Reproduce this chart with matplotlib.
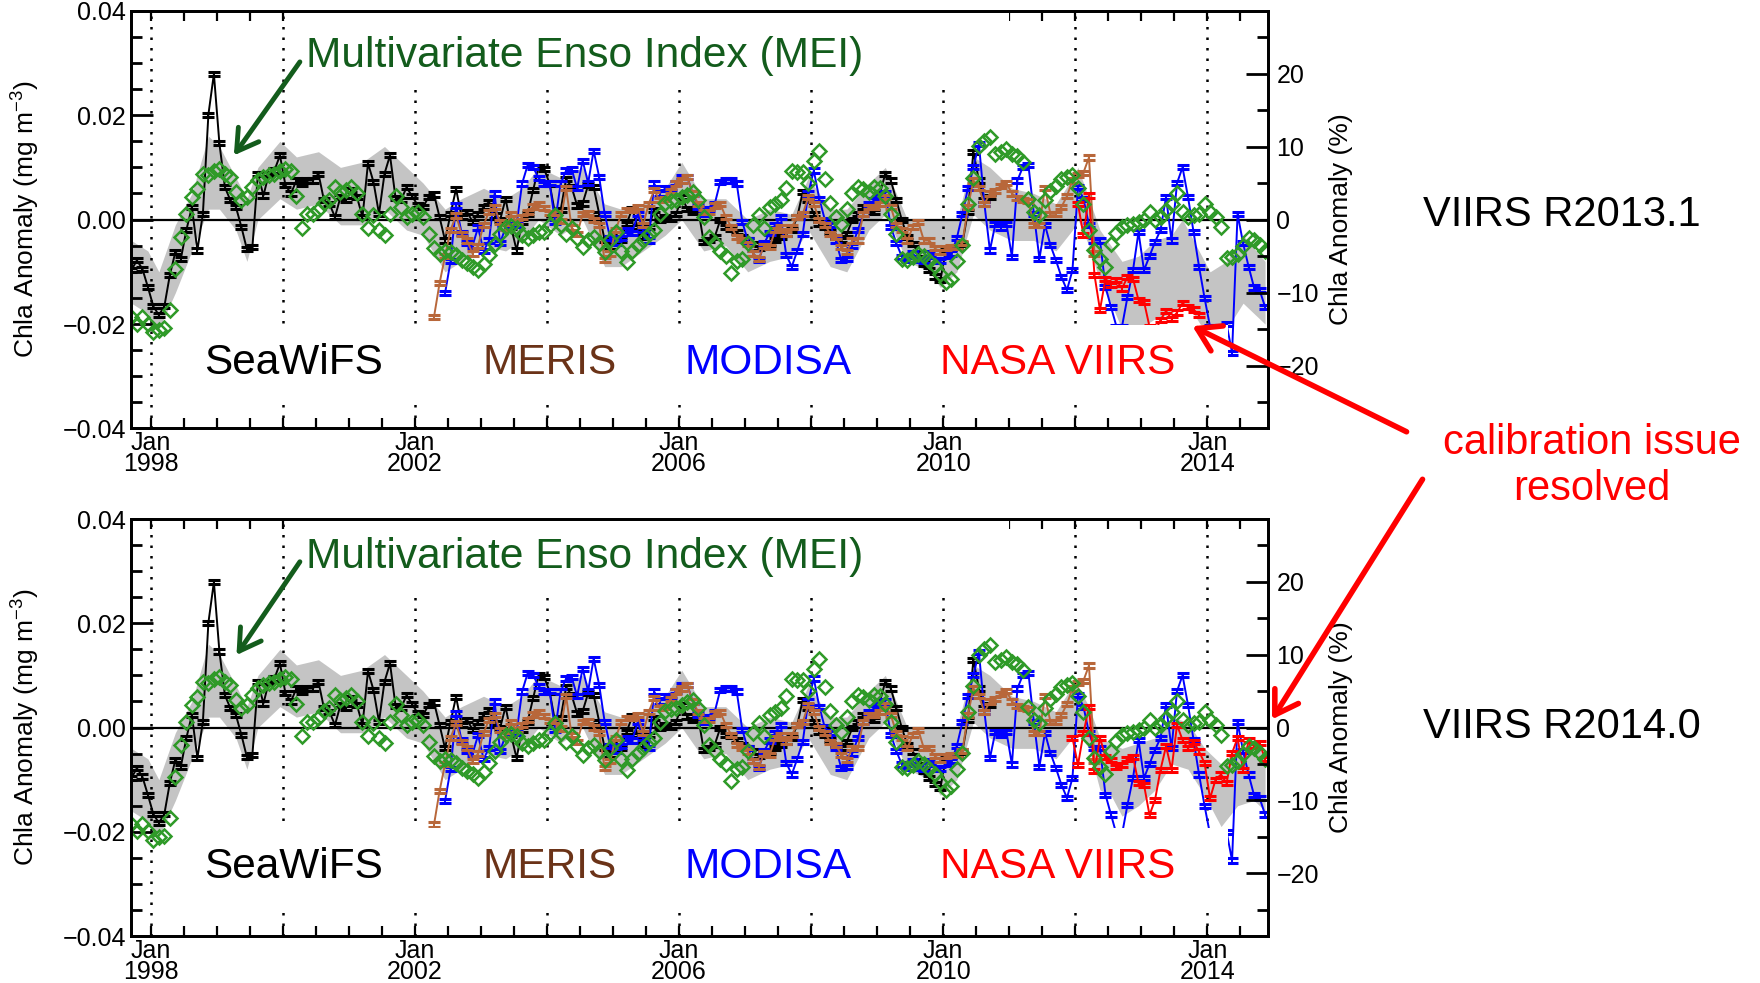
import matplotlib.pyplot as plt
import numpy as np
from matplotlib.patches import Rectangle, FancyArrowPatch
from matplotlib.ticker import MultipleLocator, FixedLocator

plt.rcParams['font.family'] = ['Liberation Sans', 'DejaVu Sans']
plt.rcParams['mathtext.fontset'] = 'custom'
plt.rcParams['mathtext.rm'] = 'Liberation Sans'
plt.rcParams['axes.unicode_minus'] = True

# monthly series, month index 0 = Sep 1997
t0 = 1997.708

seawifs = [-0.0097, -0.0078, -0.0094, -0.0129, -0.0166, -0.0183, -0.0166, -0.0106, -0.0062, -0.0075,
           -0.0020, 0.0024, -0.0059, 0.0011, 0.0201, 0.0279, 0.0146, 0.0062, 0.0037, 0.0024,
           -0.0014, -0.0057, -0.0052, 0.0088, 0.0046, 0.0088, 0.0094, 0.0123, 0.0066, 0.0050,
           0.0075, 0.0069, 0.0075, 0.0075, 0.0088, 0.0037, 0.0030, 0.0005, 0.0043, 0.0037,
           0.0056, 0.0043, 0.0005, 0.0108, 0.0072, 0.0011, 0.0088, 0.0123, 0.0042, 0.0037,
           0.0062, 0.0045, 0.0028, 0.0024, 0.0043, 0.0048, 0.0005, -0.0040, 0.0011, 0.0059,
           0.0005, 0.0015, -0.0004, 0.0011, 0.0024, 0.0034, 0.0008, -0.0001, 0.0040, -0.0014,
           -0.0059, -0.0004, 0.0011, 0.0056, 0.0101, 0.0097, 0.0069, 0.0011, 0.0018, 0.0078,
           0.0062, 0.0027, 0.0031, 0.0066, 0.0062, 0.0011, -0.0039, -0.0052, -0.0027, -0.0039,
           -0.0008, 0.0021, -0.0014, -0.0033, -0.0014, 0.0018, -0.0001, 0.0005, 0.0002, 0.0011,
           0.0043, 0.0021, 0.0015, 0.0020, -0.0043, -0.0039, -0.0033, -0.0001, -0.0014, -0.0017,
           -0.0024, -0.0033, -0.0039, -0.0046, -0.0055, -0.0049, -0.0046, -0.0039, -0.0033, -0.0027,
           -0.0020, 0.0005, 0.0053, 0.0037, 0.0011, -0.0008, -0.0014, -0.0024, -0.0033, -0.0039,
           -0.0027, -0.0001, 0.0011, 0.0024, 0.0021, 0.0015, 0.0050, 0.0088, 0.0075, 0.0037,
           -0.0001, -0.0033, -0.0046, -0.0065, -0.0084, -0.0097, -0.0109, -0.0116, -0.0059, -0.0055,
           -0.0052, -0.0046, 0.0015, 0.0130, 0.0075, 0.0037, 0.0043]
seawifs_start = 0

meris = [-0.0186, -0.0122, -0.0070, -0.0020, 0.0008, -0.0027, -0.0040, -0.0065, -0.0050, -0.0010,
         0.0015, 0.0024, -0.0005, -0.0015, 0.0010, -0.0005, 0.0005, 0.0015, 0.0025, 0.0030,
         0.0022, 0.0012, 0.0012, -0.0002, 0.0060, -0.0015, -0.0027, 0.0010, 0.0012, 0.0000,
         -0.0010, -0.0078, -0.0065, -0.0020, 0.0010, 0.0018, 0.0018, 0.0024, -0.0010, 0.0030,
         0.0056, 0.0037, 0.0040, 0.0055, 0.0069, 0.0075, 0.0082, 0.0050, 0.0030, 0.0015,
         0.0015, 0.0027, 0.0030, 0.0005, -0.0014, -0.0033, -0.0039, -0.0046, -0.0065, -0.0075,
         -0.0050, -0.0052, -0.0020, -0.0014, -0.0027, -0.0014, 0.0005, 0.0011, 0.0043, 0.0030,
         -0.0001, -0.0011, -0.0027, -0.0033, -0.0052, -0.0062, -0.0040, -0.0040, 0.0011, 0.0024,
         0.0024, 0.0030, 0.0043, 0.0024, -0.0010, -0.0020, -0.0040, -0.0014, -0.0005, -0.0040,
         -0.0040, -0.0055, -0.0062, -0.0055, -0.0052, -0.0052, -0.0045, 0.0024, 0.0075, 0.0060,
         0.0030, 0.0050, 0.0055, 0.0065, 0.0070, 0.0050, 0.0042, 0.0037, 0.0035, -0.0011,
         -0.0010, 0.0060, 0.0011, 0.0011, 0.0024, 0.0045, 0.0075, 0.0085, 0.0090, 0.0119,
         -0.0065]
meris_start = 55

modisa = [-0.0141, -0.0080, 0.0027, -0.0025, -0.0045, -0.0050, -0.0015, -0.0060, -0.0040, 0.0050,
          -0.0045, -0.0015, -0.0010, -0.0010, 0.0069, 0.0104, 0.0100, 0.0080, 0.0068, 0.0070,
          -0.0005, 0.0069, 0.0094, 0.0097, 0.0060, 0.0113, 0.0070, 0.0132, 0.0082, 0.0011,
          -0.0035, -0.0045, -0.0035, -0.0020, -0.0025, 0.0010, -0.0020, -0.0040, 0.0069, 0.0050,
          0.0060, 0.0060, 0.0070, 0.0082, 0.0082, 0.0050, 0.0025, 0.0010, 0.0020, 0.0030,
          0.0072, 0.0075, 0.0075, 0.0069, -0.0004, -0.0040, -0.0065, -0.0078, -0.0045, -0.0025,
          -0.0010, 0.0005, -0.0068, -0.0090, -0.0060, -0.0027, 0.0050, 0.0094, 0.0040, 0.0000,
          -0.0010, -0.0040, -0.0078, -0.0075, -0.0050, -0.0020, 0.0010, 0.0030, 0.0037, 0.0043,
          0.0050, -0.0014, -0.0045, -0.0071, -0.0078, -0.0065, -0.0078, -0.0080, -0.0065, -0.0070,
          -0.0080, -0.0070, -0.0065, -0.0035, 0.0010, 0.0060, 0.0100, 0.0145, 0.0030, -0.0059,
          -0.0008, -0.0015, -0.0008, -0.0071, 0.0075, 0.0101, 0.0104, 0.0010, -0.0075, -0.0010,
          -0.0049, -0.0078, -0.0110, -0.0135, -0.0097, 0.0062, 0.0040, -0.0010, -0.0040, -0.0040,
          -0.0129, -0.0167, -0.0205, -0.0205, -0.0148, -0.0097, -0.0024, -0.0097, -0.0070, -0.0043,
          -0.0020, 0.0043, -0.0040, 0.0070, 0.0100, 0.0043, -0.0024, -0.0090, -0.0150, -0.0205,
          -0.0205, -0.0205, -0.0200, -0.0255, 0.0011, -0.0045, -0.0090, -0.0130, -0.0135, -0.0167]
modisa_start = 57

viirs_r2013 = [0.0030, -0.0030, 0.0046, -0.0106, -0.0173, -0.0113, -0.0125, -0.0116, -0.0132, -0.0110,
               -0.0113, -0.0154, -0.0157, -0.0205, -0.0215, -0.0192, -0.0175, -0.0190, -0.0178, -0.0160,
               -0.0168, -0.0172, -0.0183]
viirs_r2013_start = 172

viirs_r2014 = [-0.0020, -0.0072, -0.0011, 0.0040, -0.0084, -0.0020, -0.0056, -0.0062, -0.0075, -0.0072,
               -0.0060, -0.0056, -0.0107, -0.0110, -0.0168, -0.0139, -0.0081, -0.0036, -0.0081, 0.0005,
               -0.0024, -0.0040, -0.0027, -0.0046, -0.0068, -0.0136, -0.0100, -0.0090, -0.0107, -0.0049,
               -0.0020, -0.0081, -0.0024, -0.0036, -0.0030, -0.0060]
viirs_r2014_start = 171

# MEI, scaled to chla anomaly units
mei = [-0.0186, -0.0199, -0.0186, -0.0199, -0.0215, -0.0211, -0.0208, -0.0173, -0.0094, -0.0033,
       0.0011, 0.0043, 0.0059, 0.0088, 0.0085, 0.0093, 0.0097, 0.0088, 0.0082, 0.0053,
       0.0037, 0.0043, 0.0062, 0.0075, 0.0082, 0.0085, 0.0088, 0.0094, 0.0097, 0.0094,
       0.0046, -0.0017, 0.0011, 0.0011, 0.0018, 0.0031, 0.0037, 0.0062, 0.0053, 0.0056,
       0.0062, 0.0050, 0.0011, -0.0017, 0.0008, -0.0020, -0.0030, 0.0011, 0.0046, 0.0024,
       0.0005, 0.0011, 0.0015, 0.0005, -0.0027, -0.0055, -0.0065, -0.0060, -0.0062, -0.0068,
       -0.0078, -0.0084, -0.0090, -0.0097, -0.0085, -0.0068, -0.0046, -0.0027, -0.0014, -0.0012,
       -0.0017, -0.0030, -0.0036, -0.0030, -0.0024, -0.0024, -0.0010, 0.0008, -0.0010, -0.0027,
       -0.0017, -0.0035, -0.0052, -0.0040, -0.0033, -0.0045, -0.0062, -0.0040, -0.0024, -0.0060,
       -0.0081, -0.0060, -0.0049, -0.0040, -0.0027, -0.0020, 0.0011, 0.0031, 0.0035, 0.0037,
       0.0043, 0.0048, 0.0053, 0.0037, 0.0005, -0.0033, -0.0045, -0.0060, -0.0070, -0.0103,
       -0.0080, -0.0075, -0.0045, -0.0010, 0.0008, -0.0017, 0.0024, 0.0030, 0.0037, 0.0060,
       0.0094, 0.0092, 0.0091, 0.0070, 0.0113, 0.0132, 0.0078, 0.0031, 0.0005, -0.0008,
       0.0021, 0.0050, 0.0062, 0.0058, 0.0053, 0.0062, 0.0060, 0.0045, 0.0011, -0.0027,
       -0.0075, -0.0078, -0.0072, -0.0065, -0.0070, -0.0080, -0.0089, -0.0105, -0.0119, -0.0113,
       -0.0080, -0.0049, 0.0030, 0.0080, 0.0140, 0.0150, 0.0158, 0.0126, 0.0130, 0.0136,
       0.0126, 0.0122, 0.0110, 0.0040, 0.0015, 0.0008, 0.0037, 0.0055, 0.0065, 0.0078,
       0.0082, 0.0085, 0.0060, 0.0030, -0.0020, -0.0059, -0.0075, -0.0090, -0.0046, -0.0025,
       -0.0014, -0.0010, -0.0008, -0.0004, -0.0001, 0.0015, 0.0000, 0.0005, 0.0018, 0.0030,
       0.0050, 0.0015, 0.0005, 0.0008, 0.0011, 0.0030, 0.0015, 0.0005, -0.0014, -0.0074,
       -0.0071, -0.0065, -0.0050, -0.0036, -0.0040, -0.0049, -0.0060]

# grey spread band (month index, upper, lower), common part
band_k = [0, 3, 5, 8, 11, 14, 16, 19, 21, 23, 27, 30, 34, 38, 42, 46, 50, 53, 57, 60,
          64, 68, 71, 74, 78, 82, 86, 89, 93, 97, 100, 104, 108, 112, 116, 120, 123, 127, 130, 134,
          137, 141, 145, 147, 150, 153, 156, 160, 164, 168, 171]
band_hi = [-0.004, -0.006, -0.010, -0.001, 0.005, 0.016, 0.014, 0.008, 0.004, 0.010, 0.015, 0.012, 0.013,
           0.010, 0.011, 0.014, 0.010, 0.007, 0.002, 0.004, 0.006, 0.004, 0.006, 0.010, 0.008, 0.010,
           0.003, 0.002, 0.003, 0.006, 0.011, 0.004, 0.004, 0.000, 0.002, 0.001, 0.008, 0.002, 0.002,
           0.007, 0.010, 0.000, 0.000, 0.000, 0.000, 0.012, 0.010, 0.006, 0.005, 0.003, 0.008]
band_lo = [-0.016, -0.018, -0.021, -0.014, -0.006, 0.002, 0.002, -0.002, -0.008, 0.000, 0.004, 0.002, 0.003,
           -0.001, -0.001, 0.002, -0.002, -0.003, -0.010, -0.008, -0.005, -0.006, -0.004, 0.000, -0.003, 0.000,
           -0.009, -0.009, -0.006, -0.003, 0.000, -0.006, -0.005, -0.010, -0.008, -0.007, -0.002, -0.009, -0.010,
           -0.002, 0.001, -0.008, -0.010, -0.013, -0.010, 0.001, -0.002, -0.004, -0.004, -0.006, -0.002]

# band after 2012, different for each VIIRS version
tail13_k = [172, 174, 176, 178, 180, 183, 186, 189, 191, 193, 196, 199, 202, 206]
tail13_hi = [0.010, 0.004, -0.002, -0.005, -0.008, -0.007, -0.004, -0.003, 0.000, -0.004, -0.010, -0.008, -0.003, -0.008]
tail13_lo = [0.000, -0.005, -0.012, -0.016, -0.021, -0.021, -0.019, -0.018, -0.016, -0.018, -0.023, -0.021, -0.016, -0.020]
tail14_k = [172, 174, 176, 178, 180, 183, 186, 189, 192, 195, 198, 201, 204, 206]
tail14_hi = [0.008, 0.004, -0.002, -0.003, -0.004, -0.003, -0.002, 0.002, 0.001, -0.004, -0.007, -0.004, -0.003, -0.005]
tail14_lo = [-0.001, -0.004, -0.012, -0.013, -0.017, -0.015, -0.012, -0.007, -0.008, -0.013, -0.019, -0.015, -0.014, -0.016]


def months(start, n):
    return t0 + (start + np.arange(n)) / 12.0


def draw_panel(ax, viirs, viirs_start, tk, thi, tlo, box_top, mei_y, lab_y, arrow):
    ax.set_xlim(1997.71, 2014.92)
    ax.set_ylim(-0.04, 0.04)

    bk = np.array(band_k + tk)
    ax.fill_between(t0 + bk / 12.0, band_lo + tlo, band_hi + thi, color='#c4c4c4', lw=0, zorder=1)

    for yr in range(1998, 2015, 2):
        ax.axvline(yr, color='black', lw=1.8, ls=(0, (1, 3.2)), zorder=2)
    ax.axhline(0, color='black', lw=1.6, zorder=2.2)

    eb = dict(lw=1.4, elinewidth=1.4, capsize=4, capthick=2.2)
    ax.errorbar(months(seawifs_start, len(seawifs)), seawifs, yerr=0.0004, color='black', zorder=3, **eb)
    ax.errorbar(months(modisa_start, len(modisa)), modisa, yerr=0.0004, color='#0000ff', zorder=4, **eb)
    ax.errorbar(months(meris_start, len(meris)), meris, yerr=0.0004, color='#b8673a', zorder=5, **eb)
    ax.errorbar(months(viirs_start, len(viirs)), viirs, yerr=0.0004, color='#ff0000', zorder=5.5, **eb)
    ax.plot(months(0, len(mei)), mei, ls='none', marker='D', ms=7.5, mfc='none', mec='#2f9a28', mew=1.8, zorder=6)

    # white text boxes of the slide covering parts of the plot
    ax.add_patch(Rectangle((1998.35, -0.0355), 2014.32 - 1998.35, box_top + 0.0355,
                           facecolor='white', edgecolor='none', zorder=8))
    ax.add_patch(Rectangle((2000.2, 0.0248), 2011.0 - 2000.2, 0.0150,
                           facecolor='white', edgecolor='none', zorder=8))

    ax.text(2000.35, mei_y, 'Multivariate Enso Index (MEI)', color='#135c1c', fontsize=30.6,
            ha='left', va='center', zorder=10)
    ax.annotate('', xy=arrow[1], xytext=arrow[0], zorder=10,
                arrowprops=dict(arrowstyle='->,head_length=0.75,head_width=0.45', color='#135c1c',
                                lw=3.5, mutation_scale=20, shrinkA=0, shrinkB=0))
    ax.text(1998.81, lab_y, 'SeaWiFS', color='black', fontsize=30.5, ha='left', va='center', zorder=10)
    ax.text(2003.02, lab_y, 'MERIS', color='#6b3318', fontsize=30.5, ha='left', va='center', zorder=10)
    ax.text(2006.08, lab_y, 'MODISA', color='#0000ff', fontsize=30.5, ha='left', va='center', zorder=10)
    ax.text(2009.95, lab_y, 'NASA VIIRS', color='#ff0000', fontsize=30.5, ha='left', va='center', zorder=10)

    # axes and ticks
    for sp in ax.spines.values():
        sp.set_linewidth(2)
        sp.set_zorder(20)
    ax.xaxis.set_major_locator(FixedLocator([1998, 2002, 2006, 2010, 2014]))
    ax.set_xticklabels(['Jan\n1998', 'Jan\n2002', 'Jan\n2006', 'Jan\n2010', 'Jan\n2014'], linespacing=0.85)
    ax.xaxis.set_minor_locator(MultipleLocator(0.5))
    ax.yaxis.set_major_locator(MultipleLocator(0.02))
    ax.yaxis.set_minor_locator(MultipleLocator(0.005))
    ax.set_yticks([0.04, 0.02, 0.0, -0.02, -0.04])
    ax.set_yticklabels(['0.04', '0.02', '0.00', '\u22120.02', '\u22120.04'])
    ax.tick_params(axis='x', which='both', direction='in', top=True, length=7, width=1.6,
                   labelsize=18, pad=2)
    ax.tick_params(axis='y', which='major', direction='in', length=16, width=2, labelsize=18, pad=4)
    ax.tick_params(axis='y', which='minor', direction='in', length=8, width=2)
    ax.set_ylabel('Chla Anomaly (mg m$^{-3}$)', fontsize=19)
    ax.yaxis.set_label_coords(-0.080, 0.5)

    ar = ax.twinx()
    ar.set_ylim(-28.6, 28.6)
    ar.yaxis.set_major_locator(MultipleLocator(10))
    ar.yaxis.set_minor_locator(MultipleLocator(5))
    ar.set_yticks([20, 10, 0, -10, -20])
    ar.set_yticklabels(['20', '10', '0', '\u221210', '\u221220'])
    ar.tick_params(axis='y', which='major', direction='in', length=16, width=2, labelsize=18, pad=6)
    ar.tick_params(axis='y', which='minor', direction='in', length=8, width=2)
    ar.set_ylabel('Chla Anomaly (%)', fontsize=19)
    ar.yaxis.set_label_coords(1.054, 0.5)
    for sp in ar.spines.values():
        sp.set_linewidth(2)


fig = plt.figure(figsize=(17.6, 9.83), dpi=100)
ax1 = fig.add_axes([0.0747, 0.5641, 0.6458, 0.4250])
ax2 = fig.add_axes([0.0747, 0.0478, 0.6458, 0.4242])

draw_panel(ax1, viirs_r2013, viirs_r2013_start, tail13_k, tail13_hi, tail13_lo, -0.0202,
           0.0314, -0.0274, ((2000.26, 0.0302), (1999.26, 0.0123)))
draw_panel(ax2, viirs_r2014, viirs_r2014_start, tail14_k, tail14_hi, tail14_lo, -0.0192,
           0.0328, -0.0268, ((2000.26, 0.0318), (1999.30, 0.0139)))

fig.text(0.8086, 0.7808, 'VIIRS R2013.1', fontsize=30, ha='left', va='center')
fig.text(0.8086, 0.2601, 'VIIRS R2014.0', fontsize=30, ha='left', va='center')
fig.text(0.9043, 0.5262, 'calibration issue\nresolved', fontsize=30, color='#ff0000',
         ha='center', va='center', linespacing=1.2)

for tail, tip in [((0.8006, 0.5595), (0.6761, 0.6694)), ((0.8091, 0.5148), (0.7219, 0.2658))]:
    fig.add_artist(FancyArrowPatch(tail, tip, transform=fig.transFigure,
                                   arrowstyle='->,head_length=0.8,head_width=0.5', mutation_scale=20,
                                   color='#ff0000', lw=4, zorder=30))

fig.savefig('out.png', dpi=100)
